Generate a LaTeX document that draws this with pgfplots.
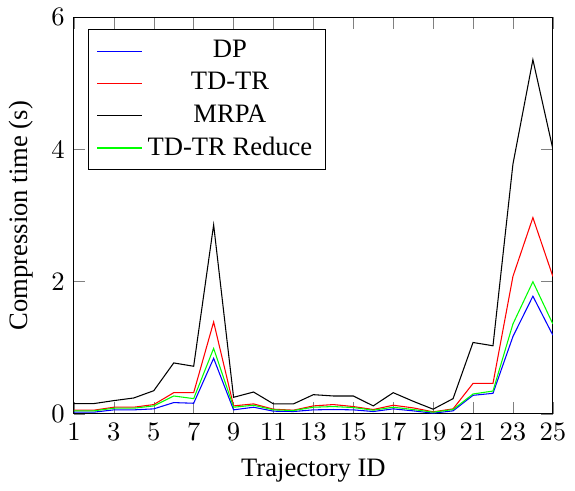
\documentclass[border=0pt]{standalone}
\usepackage{pgfplots}
\pgfplotsset{compat=1.18}
\usepackage{fontspec}
\setmainfont{Liberation Serif}

\begin{document}
\begin{tikzpicture}
\begin{axis}[
    scale only axis,
    width=180pt, height=149pt,
    xmin=1, xmax=25, ymin=0, ymax=6,
    xtick={1,3,...,25},
    ytick={0,2,4,6},
    xlabel={Trajectory ID},
    ylabel={Compression time (s)},
    legend pos=north west,
    legend cell align=center,
    legend style={text=black},
    legend image code/.code={\fill[#1, draw=none] (0cm,-0.25pt) rectangle (0.6cm,0.25pt);},
]
\addplot[blue] coordinates {
(1,0.025) (2,0.025) (3,0.06) (4,0.06) (5,0.075) (6,0.17) (7,0.16) (8,0.84)
(9,0.06) (10,0.10) (11,0.04) (12,0.035) (13,0.06) (14,0.065) (15,0.06)
(16,0.035) (17,0.075) (18,0.045) (19,0.01) (20,0.045) (21,0.28) (22,0.31)
(23,1.17) (24,1.78) (25,1.19)};
\addlegendentry{DP}
\addplot[red] coordinates {
(1,0.055) (2,0.055) (3,0.10) (4,0.10) (5,0.14) (6,0.32) (7,0.32) (8,1.39)
(9,0.12) (10,0.15) (11,0.07) (12,0.055) (13,0.12) (14,0.14) (15,0.11)
(16,0.065) (17,0.13) (18,0.09) (19,0.03) (20,0.075) (21,0.46) (22,0.46)
(23,2.08) (24,2.97) (25,2.08)};
\addlegendentry{TD-TR}
\addplot[black] coordinates {
(1,0.155) (2,0.155) (3,0.20) (4,0.24) (5,0.35) (6,0.77) (7,0.72) (8,2.86)
(9,0.25) (10,0.33) (11,0.15) (12,0.15) (13,0.29) (14,0.27) (15,0.27)
(16,0.12) (17,0.32) (18,0.19) (19,0.07) (20,0.23) (21,1.08) (22,1.03)
(23,3.78) (24,5.36) (25,4.01)};
\addlegendentry{MRPA}
\addplot[green] coordinates {
(1,0.045) (2,0.045) (3,0.085) (4,0.085) (5,0.12) (6,0.27) (7,0.23) (8,0.99)
(9,0.10) (10,0.13) (11,0.06) (12,0.05) (13,0.10) (14,0.11) (15,0.095)
(16,0.055) (17,0.10) (18,0.065) (19,0.025) (20,0.065) (21,0.30) (22,0.345)
(23,1.36) (24,2.0) (25,1.36)};
\addlegendentry{TD-TR Reduce}
\end{axis}
\end{tikzpicture}
\end{document}
